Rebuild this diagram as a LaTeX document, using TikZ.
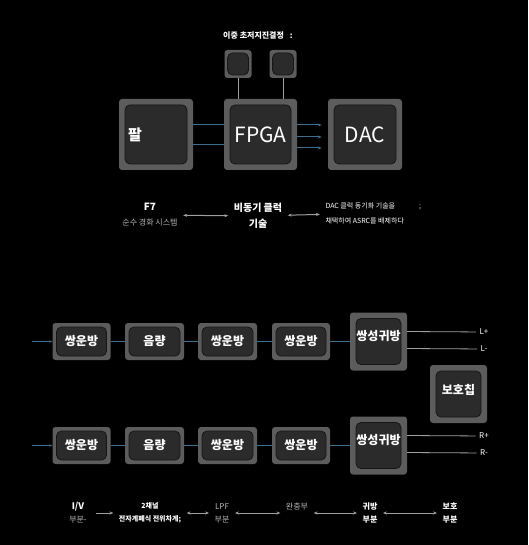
\documentclass[tikz,border=0pt]{standalone}
\usepackage{fontspec}
\setmainfont{Noto Sans CJK KR}
\usetikzlibrary{arrows.meta}

\definecolor{rim}{HTML}{5C5C5C}
\definecolor{core}{HTML}{2B2B2B}
\definecolor{coreline}{HTML}{161616}
\definecolor{wire}{HTML}{3E6E8E}
\definecolor{txt}{HTML}{B8B8B8}

\tikzset{
  blk/.style={fill=rim, rounded corners=3pt, inner sep=0pt, text=white, align=center,
    font=\bfseries\fontsize{12}{14}\selectfont,
    path picture={\draw[fill=core, draw=coreline, line width=0.8pt, rounded corners=5pt]
      ([shift={(#1,-#1)}]path picture bounding box.north west) rectangle
      ([shift={(-#1,#1)}]path picture bounding box.south east);}},
  blk/.default=5pt,
  link/.style={draw=wire, line width=1pt},
  lead/.style={draw=gray!75, line width=0.8pt},
  note/.style={text=txt, align=center, font=\fontsize{8}{13}\selectfont},
  both/.style={draw=gray!75, line width=1pt, shorten <=2pt, shorten >=2pt,
    {Stealth[length=4pt]}-{Stealth[length=4pt]}},
}

\begin{document}
\begin{tikzpicture}[x=1pt, y=-1pt]
    \fill[black] (0,0) rectangle (528,545);
    \useasboundingbox (0,0) rectangle (528,545);

    \node[note, text=white, font=\bfseries\fontsize{8}{10}\selectfont] (xtal) at (258,36) {이중 초저지진결정\hspace{6pt}:};
    \node[blk=3pt, minimum width=27pt, minimum height=28pt] (x1) at (238,64) {};
    \node[blk=3pt, minimum width=27pt, minimum height=28pt] (x2) at (283,64) {};

    \node[blk=6pt, minimum width=74pt, minimum height=71pt, text width=56pt, align=left,
      font=\bfseries\fontsize{15}{18}\selectfont] (pal) at (156,134.5) {팔};
    \node[blk=6pt, minimum width=73pt, minimum height=71pt, font=\fontsize{21}{24}\selectfont] (fpga) at (260.5,134.5) {FPGA};
    \node[blk=6pt, minimum width=74pt, minimum height=71pt, font=\fontsize{21}{24}\selectfont] (dac) at (365,134.5) {DAC};

    \draw[lead] (x1.south) -- (x1.south |- fpga.north);
    \draw[lead] (x2.south) -- (x2.south |- fpga.north);
    \draw[link] ([yshift=9.5pt]pal.east) -- ([yshift=9.5pt]fpga.west);
    \draw[link] ([yshift=-10.5pt]pal.east) -- ([yshift=-10.5pt]fpga.west);
    \foreach \dy in {9.5,-2.5,-13.5}
        \draw[link, -{Stealth[length=4pt]}, shorten >=6pt] ([yshift=\dy pt]fpga.east) -- ([yshift=\dy pt]dac.west);

    \node[note, font=\fontsize{8}{15}\selectfont] (f7) at (150,215) {\textcolor{white}{\bfseries\fontsize{10}{12}\selectfont F7}\\순수 경화 시스템};
    \node[note, text=white, font=\bfseries\fontsize{10}{16}\selectfont] (async) at (258,216) {비동기 클럭\\기술};
    \node[note, text=white, align=left, anchor=west, font=\fontsize{7}{15}\selectfont] (sync) at (322,213) {DAC 클럭 동기화 기술을\hspace{24pt};\\채택하여 ASRC를 배제하다};
    \draw[both] (f7) -- (async);
    \draw[both] (async) -- (sync);

    \foreach \r/\y in {1/341.5, 2/445.5} {
        \node[blk=4pt, minimum width=58pt, minimum height=37pt] (a\r) at (81.5,\y) {쌍운방};
        \node[blk=4pt, minimum width=59pt, minimum height=37pt] (b\r) at (154.5,\y) {음량};
        \node[blk=4pt, minimum width=59pt, minimum height=37pt] (c\r) at (227.5,\y) {쌍운방};
        \node[blk=4pt, minimum width=58pt, minimum height=37pt] (d\r) at (301,\y) {쌍운방};
        \node[blk=6pt, minimum width=57pt, minimum height=58pt, text depth=12pt] (e\r) at (378.5,\y) {쌍성귀방};
        \coordinate (in\r) at (32,\y);
        \draw[link, -{Stealth[length=3pt]}] (in\r) -- (a\r);
        \foreach \p/\q in {a/b, b/c, c/d, d/e}
            \draw[link] (\p\r) -- (\q\r);
    }
    \node[blk=6pt, minimum width=57pt, minimum height=58pt, text depth=10pt] (prot) at (458.5,394) {보호칩};

    \node[note, text=white] (lp) at (484,332) {L+};
    \node[note, text=white] (lm) at (484,349) {L-};
    \node[note, text=white] (rp) at (484,436) {R+};
    \node[note, text=white] (rm) at (484,453) {R-};
    \draw[lead] ([yshift=10pt]e1.east) -- (lp);
    \draw[lead] ([yshift=-7pt]e1.east) -- (lm);
    \draw[lead] ([yshift=10pt]e2.east) -- (rp);
    \draw[lead] ([yshift=-7pt]e2.east) -- (rm);

    \node[note] (iv) at (78,513) {\textcolor{white}{\bfseries\fontsize{9}{13}\selectfont I/V}\\부분-};
    \node[note, text=white, font=\bfseries\fontsize{7}{13}\selectfont] (ch2) at (150,513) {2채널\\전자계폐식 전위차계;};
    \node[note] (lpf) at (222,513) {LPF\\부분};
    \node[note] (buf) at (297,513) {완충부\\\mbox{}};
    \node[note, text=white, font=\bfseries\fontsize{8}{13}\selectfont] (gw) at (370,513) {귀방\\부분};
    \node[note, text=white, font=\bfseries\fontsize{8}{13}\selectfont] (bh) at (450,513) {보호\\부분};
    \draw[lead, -{Stealth[length=4pt]}, shorten <=6pt, shorten >=2pt] (iv) -- (ch2);
    \draw[both] (ch2) -- (lpf);
    \draw[both] (lpf) -- (buf);
    \draw[both] (buf) -- (gw);
    \draw[both] (gw) -- (bh);
\end{tikzpicture}
\end{document}
